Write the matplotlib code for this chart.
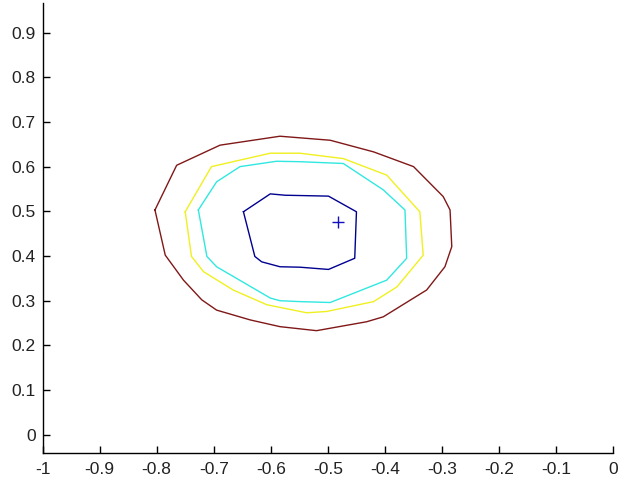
import matplotlib
matplotlib.use("Agg")
import matplotlib.pyplot as plt
import numpy as np

# contour lines, innermost first (each closed ring)
level1_x = [-0.648, -0.628, -0.616, -0.584, -0.549, -0.499, -0.453, -0.450, -0.499, -0.575, -0.601, -0.648]
level1_y = [0.499, 0.399, 0.387, 0.376, 0.375, 0.370, 0.395, 0.499, 0.534, 0.536, 0.539, 0.499]

level2_x = [-0.727, -0.712, -0.695, -0.601, -0.584, -0.549, -0.496, -0.397, -0.362, -0.365,
            -0.403, -0.473, -0.549, -0.590, -0.654, -0.695, -0.727]
level2_y = [0.503, 0.399, 0.376, 0.306, 0.300, 0.298, 0.296, 0.346, 0.395, 0.503,
            0.548, 0.607, 0.611, 0.612, 0.600, 0.566, 0.503]

level3_x = [-0.750, -0.739, -0.718, -0.666, -0.607, -0.537, -0.502, -0.420, -0.379, -0.333,
            -0.339, -0.397, -0.473, -0.549, -0.601, -0.704, -0.750]
level3_y = [0.499, 0.399, 0.365, 0.324, 0.291, 0.273, 0.276, 0.298, 0.331, 0.402,
            0.499, 0.581, 0.618, 0.630, 0.630, 0.600, 0.499]

level4_x = [-0.803, -0.785, -0.753, -0.721, -0.695, -0.636, -0.584, -0.520, -0.432, -0.403,
            -0.327, -0.295, -0.283, -0.286, -0.298, -0.350, -0.420, -0.496, -0.584, -0.689,
            -0.765, -0.803]
level4_y = [0.503, 0.402, 0.346, 0.302, 0.279, 0.257, 0.242, 0.233, 0.253, 0.264,
            0.324, 0.376, 0.421, 0.503, 0.533, 0.600, 0.633, 0.659, 0.668, 0.648,
            0.603, 0.503]

level_colors = ["#000090", "#30e8e0", "#f0f020", "#801818"]

centre_x = [-0.482]
centre_y = [0.475]

x_ticks = [-1, -0.9, -0.8, -0.7, -0.6, -0.5, -0.4, -0.3, -0.2, -0.1, 0]
x_labels = ["-1", "-0.9", "-0.8", "-0.7", "-0.6", "-0.5", "-0.4", "-0.3", "-0.2", "-0.1", "0"]
y_ticks = [0, 0.1, 0.2, 0.3, 0.4, 0.5, 0.6, 0.7, 0.8, 0.9]
y_labels = ["0", "0.1", "0.2", "0.3", "0.4", "0.5", "0.6", "0.7", "0.8", "0.9"]


def main():
    plt.rcParams["font.family"] = ["Liberation Sans", "DejaVu Sans"]

    fig = plt.figure(figsize=(6.18, 4.79), dpi=100)
    ax = fig.add_axes([0.0688, 0.0549, 0.9236, 0.9388])

    rings = [(level1_x, level1_y), (level2_x, level2_y),
             (level3_x, level3_y), (level4_x, level4_y)]
    for (xs, ys), col in zip(rings, level_colors):
        ax.plot(xs, ys, color=col, linewidth=1.0)

    ax.plot(centre_x, centre_y, "+", color="#1010c0", markersize=9, markeredgewidth=1.0)

    ax.set_xlim(-1, 0)
    ax.set_ylim(-0.04, 0.966)

    ax.set_xticks(x_ticks)
    ax.set_xticklabels(x_labels)
    ax.set_yticks(y_ticks)
    ax.set_yticklabels(y_labels)

    ax.spines["top"].set_visible(False)
    ax.spines["right"].set_visible(False)
    for s in ["left", "bottom"]:
        ax.spines[s].set_linewidth(1.0)

    ax.tick_params(direction="in", length=5, width=1.0, labelsize=12.5,
                   labelcolor="#222222", top=False, right=False)
    ax.tick_params(axis="x", pad=7)
    ax.tick_params(axis="y", pad=5)

    fig.savefig("out.png", dpi=100)
    plt.close(fig)


if __name__ == "__main__":
    main()
